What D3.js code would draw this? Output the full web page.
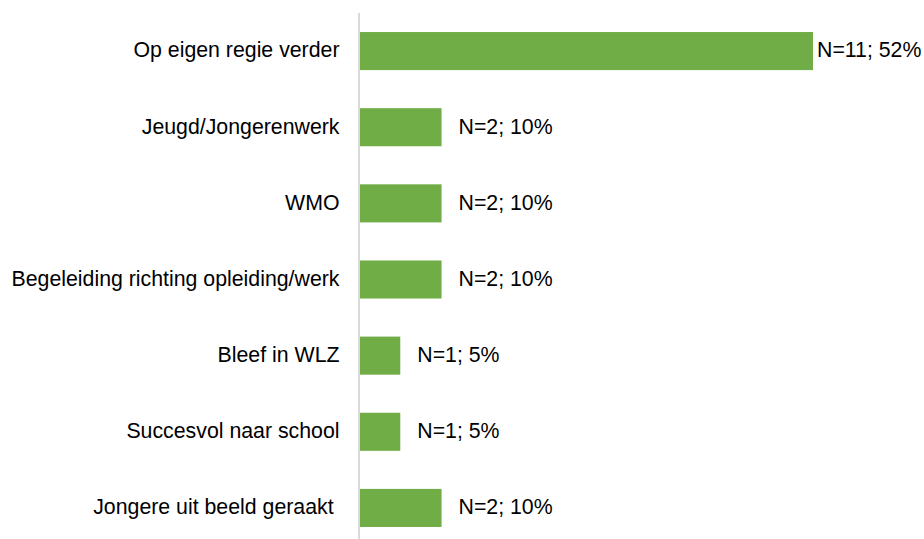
<!DOCTYPE html>
<html>
<head>
<meta charset="utf-8">
<script src="https://cdn.jsdelivr.net/npm/d3@7"></script>
<style>
  body { margin: 0; background: #fff; }
</style>
</head>
<body>
<div id="chart"></div>
<script>
var categories = ["Op eigen regie verder", "Jeugd/Jongerenwerk", "WMO",
  "Begeleiding richting opleiding/werk", "Bleef in WLZ", "Succesvol naar school",
  "Jongere uit beeld geraakt "];
var counts = [11, 2, 2, 2, 1, 1, 2];
var percents = [52, 10, 10, 10, 5, 5, 10];

var width = 924, height = 539;

var svg = d3.select("#chart")
  .append("svg")
  .attr("width", width)
  .attr("height", height)
  .style("font-family", "'Liberation Sans', Arial, sans-serif");

var x = d3.scaleLinear()
  .domain([0, 11])
  .range([359, 813]);

var y = d3.scaleBand()
  .domain(categories)
  .range([13, 546])
  .paddingInner(0.5)
  .paddingOuter(0.25);

// bars
svg.selectAll(".bar")
  .data(categories)
  .enter().append("rect")
  .attr("class", "bar")
  .attr("x", x(0))
  .attr("y", function(d) { return y(d); })
  .attr("width", function(d, i) { return x(counts[i]) - x(0); })
  .attr("height", y.bandwidth())
  .style("fill", "#70ad47");

// vertical axis line
svg.append("line")
  .attr("x1", x(0))
  .attr("x2", x(0))
  .attr("y1", 13)
  .attr("y2", height)
  .style("stroke", "#d9d9d9")
  .style("stroke-width", 2);

// category labels
svg.selectAll(".cat")
  .data(categories)
  .enter().append("text")
  .attr("class", "cat")
  .attr("x", x(0) - 19.5)
  .attr("y", function(d) { return y(d) + y.bandwidth() / 2; })
  .attr("dy", "0.3em")
  .attr("text-anchor", "end")
  .style("white-space", "pre")
  .style("font-size", "21.3px")
  .style("fill", "#000")
  .text(function(d) { return d; });

// value labels (pulled in next to the bar when they would run off the edge)
svg.selectAll(".val")
  .data(categories)
  .enter().append("text")
  .attr("class", "val")
  .attr("y", function(d) { return y(d) + y.bandwidth() / 2; })
  .attr("dy", "0.3em")
  .style("font-size", "21.3px")
  .style("fill", "#000")
  .text(function(d, i) { return "N=" + counts[i] + "; " + percents[i] + "%"; })
  .attr("x", function(d, i) {
    var w = this.getComputedTextLength();
    var xe = x(counts[i]);
    return (xe + 17 + w > width - 2) ? xe + 4 : xe + 17;
  });
</script>
</body>
</html>
